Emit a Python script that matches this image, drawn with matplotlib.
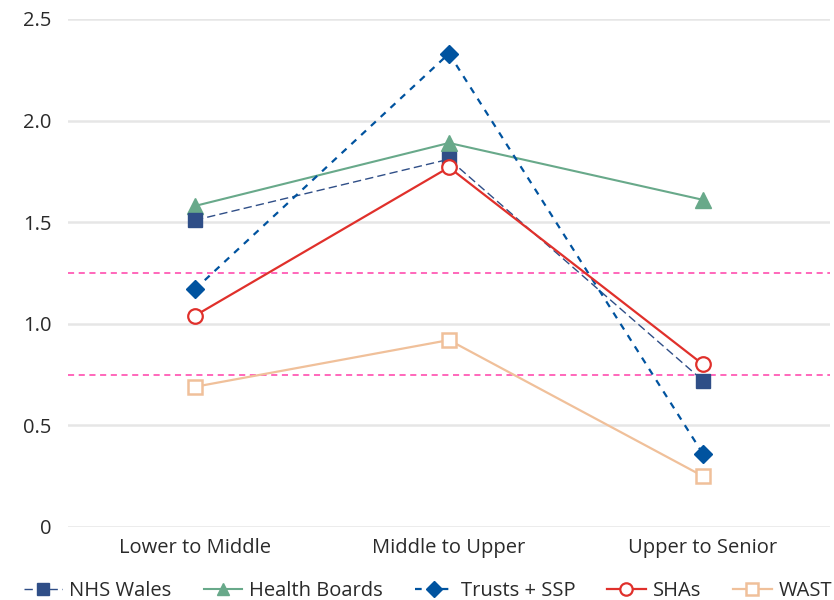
import matplotlib
matplotlib.use("Agg")
import matplotlib.pyplot as plt

plt.rcParams['font.family'] = ['Open Sans', 'DejaVu Sans']

categories = ["Lower to Middle", "Middle to Upper", "Upper to Senior"]
nhs_wales = [1.51, 1.81, 0.72]
health_boards = [1.58, 1.89, 1.61]
trusts_ssp = [1.17, 2.33, 0.36]
shas = [1.04, 1.77, 0.80]
wast = [0.69, 0.92, 0.25]
thresholds = [1.25, 0.75]
y_ticks = [0, 0.5, 1.0, 1.5, 2.0, 2.5]
y_tick_labels = ["0", "0.5", "1.0", "1.5", "2.0", "2.5"]

fig = plt.figure(figsize=(8.34, 6.0), dpi=100)
ax = fig.add_axes([68 / 834, 73 / 600, 762 / 834, 508 / 600])

x = list(range(len(categories)))

for t in thresholds:
    ax.axhline(t, color="#FF3FA8", lw=1.1, ls=(0, (4, 3)), zorder=2)

ax.plot(x, health_boards, color="#68A98A", lw=1.5, marker="^", ms=11,
        mfc="#68A98A", mec="#68A98A", label="Health Boards", zorder=4, clip_on=False)
ax.plot(x, nhs_wales, color="#2F4E87", lw=1.0, ls=(0, (6, 3)), marker="s", ms=10,
        mfc="#2F4E87", mec="#2F4E87", label="NHS Wales", zorder=5, clip_on=False)
ax.plot(x, trusts_ssp, color="#00539F", lw=1.6, ls=(0, (3, 3)), marker="D", ms=9.5,
        mfc="#00539F", mec="#00539F", label="Trusts + SSP", zorder=5, clip_on=False)
ax.plot(x, shas, color="#E0302B", lw=1.6, marker="o", ms=10.5,
        mfc="white", mec="#E0302B", mew=1.6, label="SHAs", zorder=6, clip_on=False)
ax.plot(x, wast, color="#F0C09A", lw=1.6, marker="s", ms=10,
        mfc="white", mec="#F0C09A", mew=1.8, label="WAST", zorder=4, clip_on=False)

ax.set_xlim(-0.5, 2.5)
ax.set_ylim(0, 2.5)
ax.set_yticks(y_ticks)
ax.set_yticklabels(y_tick_labels)
ax.set_xticks(x)
ax.set_xticklabels(categories)
ax.grid(axis="y", color="#E6E6E6", lw=1.8, zorder=0)
ax.set_axisbelow(True)
for s in ax.spines.values():
    s.set_visible(False)
ax.tick_params(axis="both", length=0, labelsize=14.5, colors="#2a2a2a")
ax.tick_params(axis="y", pad=12)
ax.tick_params(axis="x", pad=8)

handles, labels = ax.get_legend_handles_labels()
order = ["NHS Wales", "Health Boards", "Trusts + SSP", "SHAs", "WAST"]
hmap = dict(zip(labels, handles))
leg = fig.legend([hmap[k] for k in order], order, loc="lower left",
                 bbox_to_anchor=(6 / 834, -0.032), ncol=5, frameon=False,
                 fontsize=14.5, handlelength=1.9, columnspacing=1.6,
                 handletextpad=0.35, markerscale=0.85, labelcolor="#2a2a2a")

fig.savefig("out.png", dpi=100)
